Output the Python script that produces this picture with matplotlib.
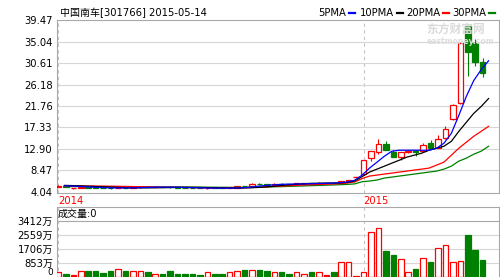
"""CSR (中国南车) candlestick chart with moving averages and a volume panel."""

import numpy as np
import matplotlib
matplotlib.use("Agg")
import matplotlib.pyplot as plt
from matplotlib.patches import Rectangle
from matplotlib.lines import Line2D

plt.rcParams["font.family"] = ["DejaVu Sans", "Noto Sans CJK SC"]

# ---- data ------------------------------------------------------------------
TITLE = "中国南车[301766] 2015-05-14"
MA_NAMES = ["5PMA", "10PMA", "20PMA", "30PMA"]
YEAR_LABELS = ["2014", "2015"]
YEAR_START = [0, 41]

opens = [5.10, 5.30, 4.90, 4.90, 5.05, 5.00, 4.92, 4.88, 4.80, 4.95,
         4.88, 5.00, 5.08, 5.00, 5.10, 5.05, 5.00, 4.95, 4.92, 4.88,
         4.78, 4.90, 4.85, 4.80, 4.95, 5.30, 5.35, 5.70, 5.65, 5.55,
         5.75, 5.68, 5.60, 5.78, 5.90, 5.80, 5.92, 5.95, 5.85, 6.30,
         7.10, 7.73, 11.00, 12.23, 13.87, 12.23, 11.21, 12.30, 12.50, 12.44,
         14.07, 13.05, 15.10, 19.00, 22.27, 38.24, 34.76, 30.87]
closes = [5.30, 5.15, 4.90, 5.05, 4.95, 4.90, 4.85, 4.80, 4.95, 4.88,
          5.00, 5.08, 5.00, 5.10, 5.02, 4.98, 4.93, 4.90, 4.85, 4.80,
          4.90, 4.82, 4.80, 4.95, 5.20, 5.20, 5.75, 5.60, 5.55, 5.75,
          5.65, 5.60, 5.80, 5.90, 5.80, 5.95, 5.92, 5.85, 6.30, 6.45,
          7.10, 10.59, 12.44, 13.87, 12.64, 11.21, 12.23, 12.50, 12.30, 13.67,
          13.05, 14.90, 16.94, 22.06, 34.76, 32.92, 30.87, 28.62]
highs = [5.40, 5.35, 4.92, 5.10, 5.08, 5.02, 4.95, 4.90, 5.00, 4.98,
         5.05, 5.12, 5.10, 5.15, 5.12, 5.07, 5.02, 4.97, 4.93, 4.90,
         4.95, 4.92, 4.86, 5.00, 5.25, 5.35, 5.85, 5.80, 5.75, 5.80,
         5.80, 5.72, 5.85, 5.95, 5.95, 6.00, 5.98, 6.00, 6.40, 6.60,
         7.10, 10.70, 12.50, 14.90, 14.49, 12.64, 12.30, 12.70, 12.60, 14.07,
         14.69, 15.71, 17.56, 22.10, 34.80, 38.30, 35.58, 31.69]
lows = [5.00, 5.10, 4.60, 4.85, 4.90, 4.85, 4.80, 4.75, 4.78, 4.85,
        4.85, 4.96, 4.97, 4.98, 5.00, 4.95, 4.90, 4.87, 4.82, 4.76,
        4.75, 4.80, 4.77, 4.78, 4.93, 5.15, 5.30, 5.55, 5.50, 5.50,
        5.60, 5.55, 5.58, 5.75, 5.75, 5.78, 5.85, 5.80, 5.82, 6.20,
        7.10, 7.60, 10.39, 11.82, 12.60, 11.15, 10.59, 12.10, 11.41, 12.40,
        13.00, 13.00, 15.05, 18.90, 22.20, 28.00, 30.05, 27.80]

# volume in 万 (10k shares)
volumes = [291, 212, 100, 352, 352, 352, 255, 395, 498, 352,
           352, 352, 291, 212, 212, 352, 212, 212, 212, 150,
           291, 212, 212, 291, 352, 413, 455, 413, 352, 291,
           291, 212, 291, 212, 291, 291, 152, 291, 941, 900,
           50, 291, 2762, 2986, 1608, 1366, 1103, 334, 516, 1163,
           900, 1770, 1973, 941, 1001, 2580, 1669, 1062]

ma5 = [5.30, 5.25, 5.18, 5.10, 5.02, 4.95, 4.90, 4.88, 4.88, 4.90,
       4.93, 4.97, 5.01, 5.03, 5.04, 5.02, 4.98, 4.94, 4.90, 4.87,
       4.84, 4.83, 4.82, 4.85, 4.92, 5.05, 5.22, 5.38, 5.50, 5.60,
       5.66, 5.68, 5.70, 5.74, 5.78, 5.82, 5.86, 5.95, 6.10, 6.45,
       7.52, 8.96, 10.18, 11.41, 12.44, 12.64, 12.64, 12.64, 12.64, 12.64,
       13.05, 14.08, 16.13, 19.81, 23.70, 26.98, 29.23, 31.07]
ma10 = [5.40, 5.36, 5.31, 5.25, 5.18, 5.11, 5.04, 4.98, 4.93, 4.90,
        4.89, 4.89, 4.90, 4.92, 4.95, 4.98, 5.00, 5.00, 4.98, 4.95,
        4.91, 4.88, 4.86, 4.85, 4.86, 4.90, 4.97, 5.07, 5.20, 5.35,
        5.50, 5.62, 5.72, 5.80, 5.84, 5.87, 5.89, 5.92, 6.00, 6.30,
        7.20, 8.14, 8.75, 9.36, 9.98, 10.59, 11.21, 11.62, 12.03, 12.64,
        13.05, 13.46, 14.48, 16.53, 18.38, 20.22, 21.65, 23.29]
ma20 = [5.30, 5.29, 5.28, 5.27, 5.26, 5.25, 5.23, 5.21, 5.19, 5.16,
        5.13, 5.10, 5.07, 5.04, 5.01, 4.99, 4.97, 4.95, 4.93, 4.91,
        4.89, 4.88, 4.88, 4.89, 4.92, 4.96, 5.02, 5.10, 5.18, 5.25,
        5.32, 5.40, 5.47, 5.53, 5.58, 5.63, 5.68, 5.75, 5.88, 6.10,
        6.80, 7.32, 7.52, 7.73, 7.93, 8.14, 8.34, 8.55, 8.75, 8.96,
        9.57, 10.18, 11.62, 13.05, 14.28, 15.51, 16.53, 17.56]
ma30 = [5.15, 5.15, 5.16, 5.16, 5.16, 5.16, 5.15, 5.15, 5.14, 5.13,
        5.12, 5.11, 5.10, 5.09, 5.08, 5.07, 5.06, 5.05, 5.04, 5.03,
        5.02, 5.01, 5.00, 5.00, 5.00, 5.01, 5.03, 5.06, 5.10, 5.14,
        5.18, 5.23, 5.28, 5.33, 5.38, 5.43, 5.48, 5.54, 5.60, 5.70,
        6.15, 6.29, 6.50, 6.91, 7.11, 7.32, 7.52, 7.73, 7.93, 8.14,
        8.34, 8.75, 9.36, 10.39, 11.00, 11.82, 12.44, 13.46]

PRICE_TICKS = [4.04, 8.47, 12.90, 17.33, 21.76, 26.18, 30.61, 35.04, 39.47]
VOL_TICKS = [0, 853, 1706, 2559, 3412]

# ---- style ------------------------------------------------------------------
W, H = 500, 277
UP, DOWN = "#ff0000", "#008000"
MA_COLORS = ["#0000ff", "#000000", "#ff0000", "#008000"]
GRID, BORDER = "#d6d6d6", "#a8a8a8"
BODY_W = 0.74
FS = 7.2


def _rect(x0, y0, x1, y1):
    """pixel box (top-left origin) -> figure fraction."""
    return [x0 / W, 1 - y1 / H, (x1 - x0) / W, (y1 - y0) / H]


def _frame(ax):
    for s in ax.spines.values():
        s.set_color(BORDER)
        s.set_linewidth(0.8)
    ax.tick_params(length=0, pad=3, labelsize=FS)
    ax.set_xlim(-0.2, 59.2)
    for k in YEAR_START:
        ax.axvline(k, color="#c4c4c4", lw=0.8, ls=(0, (3, 3)), zorder=1)


def draw_candles(ax):
    for k, (o, c, h, l) in enumerate(zip(opens, closes, highs, lows)):
        x0 = k - BODY_W / 2
        if c > o:
            ax.vlines(k, l, o, color=UP, lw=0.8, zorder=3)
            ax.vlines(k, c, h, color=UP, lw=0.8, zorder=3)
            ax.add_patch(Rectangle((x0, o), BODY_W, c - o, fc="white",
                                   ec=UP, lw=0.9, zorder=4))
        elif c < o:
            ax.vlines(k, l, h, color=DOWN, lw=0.8, zorder=3)
            ax.add_patch(Rectangle((x0, c), BODY_W, o - c, fc=DOWN,
                                   ec=DOWN, lw=0.9, zorder=4))
        else:
            ax.vlines(k, l, h, color=UP, lw=0.8, zorder=3)
            ax.hlines(o, x0, x0 + BODY_W, color=UP, lw=1.0, zorder=4)


def draw_volume(ax):
    for k, (o, c, v) in enumerate(zip(opens, closes, volumes)):
        x0 = k - BODY_W / 2
        if c > o:
            ax.add_patch(Rectangle((x0, 0), BODY_W, v, fc="white", ec=UP,
                                   lw=0.9, zorder=4))
        else:
            col = DOWN if c < o else UP
            ax.add_patch(Rectangle((x0, 0), BODY_W, v, fc=col, ec=col,
                                   lw=0.9, zorder=4))


def main():
    fig = plt.figure(figsize=(W / 100, H / 100), dpi=100)
    fig.patch.set_facecolor("white")

    # ---- price panel ----
    ax = fig.add_axes(_rect(57, 20, 499, 193))
    _frame(ax)
    ax.set_ylim(3.83, 39.47)
    ax.set_yticks(PRICE_TICKS)
    ax.set_yticklabels([f"{v:.2f}" for v in PRICE_TICKS])
    for v in PRICE_TICKS[1:-1]:
        ax.axhline(v, color=GRID, lw=0.8, zorder=1)
    ax.set_xticks(YEAR_START)
    ax.set_xticklabels(YEAR_LABELS, color=UP, ha="left", fontsize=FS)
    ax.tick_params(axis="x", pad=2)

    # watermark
    fig.text(426 / W, 1 - 29 / H, "东方财富网", fontsize=8.5, color="#dadada",
             fontweight="bold", va="center", zorder=0)
    fig.text(427 / W, 1 - 41 / H, "eastmoney.com", fontsize=5.5,
             color="#dedede", fontweight="bold", va="center", zorder=0)

    draw_candles(ax)
    x_ma = np.arange(len(ma5)) + 0.8
    for vals, col in zip([ma30, ma20, ma10, ma5], MA_COLORS[::-1]):
        ax.plot(x_ma, vals, color=col, lw=0.9, zorder=5)

    # ---- header ----
    fig.text(60 / W, 1 - 13 / H, TITLE, fontsize=FS, va="center")
    legend_x = [318, 360, 406, 452]
    fig.canvas.draw()
    for x, name, col in zip(legend_x, MA_NAMES, MA_COLORS):
        t = fig.text(x / W, 1 - 13 / H, name, fontsize=FS, va="center")
        bb = t.get_window_extent(renderer=fig.canvas.get_renderer())
        fig.add_artist(Line2D([(bb.x1 + 3) / W, (bb.x1 + 9) / W],
                              [1 - 13 / H, 1 - 13 / H], color=col, lw=1.6,
                              transform=fig.transFigure))

    # ---- volume panel ----
    vx = fig.add_axes(_rect(57, 207, 499, 277))
    _frame(vx)
    vx.spines["bottom"].set_visible(False)
    vx.set_ylim(0, 4280)
    vx.set_xticks([])
    vx.set_yticks(VOL_TICKS)
    vx.set_yticklabels(["" if v == 0 else f"{v}万" for v in VOL_TICKS])
    # the zero label sits on the bottom edge; keep it inside the picture
    vx.annotate(str(VOL_TICKS[0]), xy=(0, VOL_TICKS[0]),
                xycoords=("axes fraction", "data"), xytext=(-3, 0),
                textcoords="offset points", ha="right", va="bottom",
                fontsize=6.5)
    for v in VOL_TICKS[1:-1]:
        vx.axhline(v, color=GRID, lw=0.8, zorder=1)
    vx.axhline(VOL_TICKS[-1], color=BORDER, lw=0.8, zorder=1)
    draw_volume(vx)
    fig.text(58 / W, 1 - 214 / H, "成交量:0", fontsize=FS, va="center")

    fig.savefig("out.png", dpi=100)
    plt.close(fig)


if __name__ == "__main__":
    main()
